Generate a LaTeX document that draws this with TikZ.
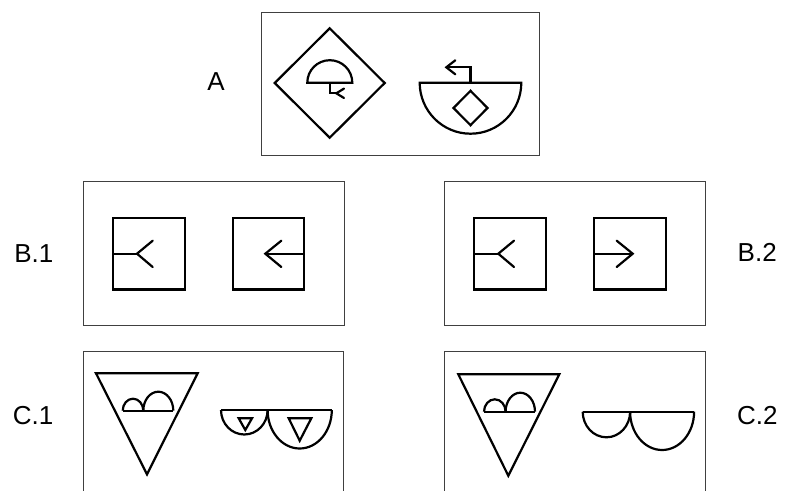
\documentclass[tikz,border=0pt]{standalone}
\usepackage{fontspec}
\setmainfont{Liberation Sans}
\begin{document}
\begin{tikzpicture}[x=1pt,y=-1pt,
  frame/.style={draw=black!75,line width=1pt},
  glyph/.style={draw=black,line width=2.2pt,line join=miter},
  tip/.style={draw=black,line width=2.2pt,line cap=round,line join=miter},
  lbl/.style={inner sep=0pt,font=\fontsize{26}{30}\selectfont}]
\useasboundingbox (0,0) rectangle (787,490);

% ---------- panel A ----------
\draw[frame] (261,12) rectangle (539,155);
\node[lbl] (labA) at (216,82) {A};
% diamond with dome and forked stem
\draw[glyph] (329.7,28.3) -- (384.7,83) -- (329.7,137.7) -- (274.7,83) -- cycle;
\draw[glyph] (307.3,82.7) arc[start angle=180,end angle=0,x radius=22.5pt,y radius=22.5pt] -- cycle;
\draw[glyph] (329.8,82.7) -- (329.8,93.3) -- (336.3,93.3);
\draw[tip] (344,88.6) -- (336.3,93.3) -- (344,98);
% bowl with inner diamond and turning arrow
\draw[glyph] (419.7,82.7) arc[start angle=180,end angle=360,x radius=50.8pt,y radius=51pt] -- cycle;
\draw[glyph] (470.5,90.8) -- (487.5,108) -- (470.5,125.2) -- (453.5,108) -- cycle;
\draw[glyph] (470.5,82.7) -- (470.5,67.3) -- (446.3,67.3);
\draw[tip] (455.3,60.3) -- (446.3,67.3) -- (455.3,74.3);

% ---------- panel B.1 ----------
\draw[frame] (83.7,181.7) rectangle (344.3,325);
\node[lbl,anchor=east] (labB1) at (53.5,253.5) {B.1};
\draw[glyph] (113,218) rectangle (184.7,289.5);
\draw[glyph] (113,253.7) -- (137,253.7);
\draw[tip] (152.7,240.7) -- (137,253.7) -- (152.7,267);
\draw[glyph] (232.7,218) rectangle (304.3,289.5);
\draw[glyph] (304.3,253.7) -- (265.3,253.7);
\draw[tip] (281.3,240.7) -- (265.3,253.7) -- (281.3,267);

% ---------- panel B.2 ----------
\draw[frame] (444,181.7) rectangle (705,325);
\node[lbl,anchor=west] (labB2) at (737.5,252.5) {B.2};
\draw[glyph] (474.3,218) rectangle (546,289.5);
\draw[glyph] (474.3,253.7) -- (498.3,253.7);
\draw[tip] (514,240.7) -- (498.3,253.7) -- (514,267);
\draw[glyph] (594,218) rectangle (665.7,289.5);
\draw[glyph] (594,253.7) -- (632.7,253.7);
\draw[tip] (616.7,240.7) -- (632.7,253.7) -- (616.7,267);

% ---------- panel C.1 ----------
\draw[frame] (83.7,492) -- (83.7,351.7) -- (343.7,351.7) -- (343.7,492);
\node[lbl,anchor=east] (labC1) at (53.5,416) {C.1};
\draw[glyph] (96,373.3) -- (197.7,373.3) -- (147,474.3) -- cycle;
\draw[glyph] (122.7,410.7) arc[start angle=180,end angle=0,x radius=10.3pt,y radius=12pt];
\draw[glyph] (143.3,410.7) arc[start angle=180,end angle=0,x radius=15pt,y radius=19pt];
\draw[glyph] (122.7,410.7) -- (173.3,410.7);
\draw[glyph] (221,410) arc[start angle=180,end angle=360,x radius=23.3pt,y radius=24.5pt];
\draw[glyph] (267.6,410) arc[start angle=180,end angle=360,x radius=32.1pt,y radius=38.5pt];
\draw[glyph] (221,410) -- (331.8,410);
\draw[glyph] (238.7,418.3) -- (252,418.3) -- (245.3,430) -- cycle;
\draw[glyph] (288.7,418.3) -- (311.3,418.3) -- (299.7,440.7) -- cycle;

% ---------- panel C.2 ----------
\draw[frame] (444,492) -- (444,351.7) -- (705,351.7) -- (705,492);
\node[lbl,anchor=west] (labC2) at (737,416) {C.2};
\draw[glyph] (458.3,374.3) -- (559.3,374.3) -- (508.3,475.7) -- cycle;
\draw[glyph] (484,411.7) arc[start angle=180,end angle=0,x radius=10.8pt,y radius=12.4pt];
\draw[glyph] (505.6,411.7) arc[start angle=180,end angle=0,x radius=14.7pt,y radius=19pt];
\draw[glyph] (484,411.7) -- (535,411.7);
\draw[glyph] (582.7,411.7) arc[start angle=180,end angle=360,x radius=23.7pt,y radius=25.6pt];
\draw[glyph] (630.1,411.7) arc[start angle=180,end angle=360,x radius=32pt,y radius=38.3pt];
\draw[glyph] (582.7,411.7) -- (694,411.7);
\end{tikzpicture}
\end{document}
